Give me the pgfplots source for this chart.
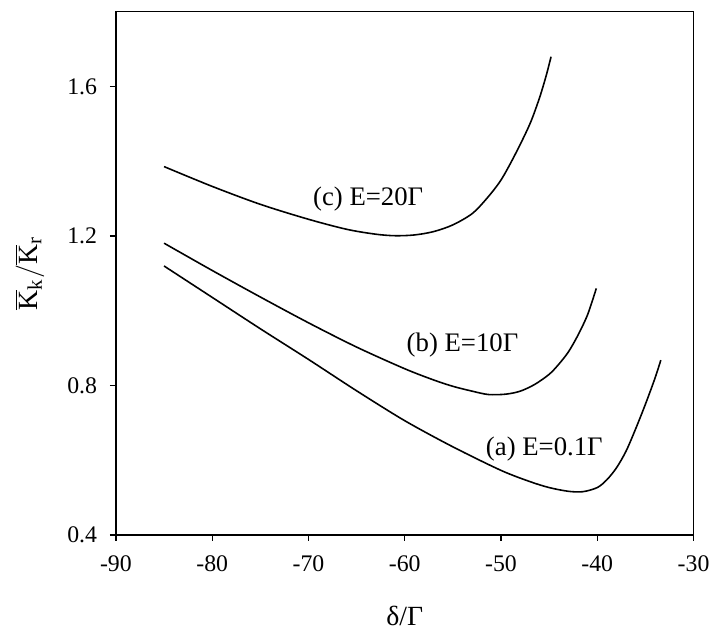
\documentclass[border=0pt]{standalone}
\usepackage{fontspec}
\setmainfont{Liberation Serif}
\usepackage{pgfplots}
\pgfplotsset{compat=1.18}

\begin{document}
\begin{tikzpicture}
\begin{axis}[
    scale only axis,
    width=291.5pt, height=264pt,
    xmin=-90, xmax=-30,
    ymin=0.4, ymax=1.8,
    xtick={-90,-80,...,-30},
    ytick={0.4,0.8,1.2,1.6},
    tick align=outside,
    xtick pos=bottom, ytick pos=left,
    major tick length=3pt,
    axis line style={line width=0.6pt},
    every tick/.style={black, line width=0.6pt},
    /pgf/number format/assume math mode=true,
    /pgf/number format/fixed,
    /pgf/number format/fixed zerofill,
    /pgf/number format/precision=1,
    xticklabel={\pgfmathprintnumber[precision=0]{\tick}},
    tick label style={font=\fontsize{12}{14}\selectfont},
    yticklabel style={xshift=-3pt},
    xticklabel style={yshift=-4pt},
    label style={font=\fontsize{14}{16}\selectfont},
    xlabel={δ/Γ},
    ylabel={$\overline{\mbox{K}}_{\mbox{\fontsize{10.5}{12}\selectfont k}}/\overline{\mbox{K}}_{\mbox{\fontsize{10.5}{12}\selectfont r}}$},
    xlabel style={at={(axis description cs:0.5,0)}, anchor=center, yshift=-41pt},
    ylabel style={at={(axis description cs:0,0.5)}, anchor=center, yshift=43.5pt},
]
% (a) E=0.1Gamma
\addplot[black, line width=0.8pt, smooth] coordinates {
    (-85,1.12) (-80,1.036) (-75,0.952) (-70,0.87) (-65,0.786) (-60,0.706)
    (-55,0.636) (-50,0.573) (-47,0.543) (-45,0.527) (-43,0.517) (-41.5,0.516)
    (-40,0.527) (-39,0.548) (-38,0.58) (-37,0.625) (-36,0.685) (-35,0.75)
    (-34,0.82) (-33.4,0.868)
};
% (b) E=10Gamma
\addplot[black, line width=0.8pt, smooth] coordinates {
    (-85,1.181) (-80,1.108) (-75,1.037) (-70,0.968) (-65,0.903) (-60,0.845)
    (-57,0.815) (-55,0.798) (-53,0.785) (-51.3,0.776) (-49.5,0.777) (-48,0.785)
    (-46.5,0.803) (-45,0.83) (-44,0.857) (-43,0.89) (-42,0.935) (-41,0.99)
    (-40.1,1.06)
};
% (c) E=20Gamma
\addplot[black, line width=0.8pt, smooth] coordinates {
    (-85,1.386) (-80,1.333) (-75,1.285) (-70,1.245) (-66,1.218) (-63,1.205)
    (-61,1.201) (-59,1.203) (-57,1.212) (-55,1.23) (-53,1.26) (-51.5,1.30)
    (-50,1.35) (-48.5,1.42) (-47,1.50) (-46,1.57) (-45.3,1.63) (-44.8,1.68)
};
\node at (axis cs:-63.8,1.30) {\fontsize{13.5}{15}\selectfont (c) E=20Γ};
\node at (axis cs:-54,0.909) {\fontsize{13.5}{15}\selectfont (b) E=10Γ};
\node at (axis cs:-45.5,0.63) {\fontsize{13.5}{15}\selectfont (a) E=0.1Γ};
\end{axis}
\path[use as bounding box]
    ([xshift=-58.5pt,yshift=-46pt]current axis.south west)
    rectangle ([xshift=8pt,yshift=6pt]current axis.north east);
\end{tikzpicture}
\end{document}
